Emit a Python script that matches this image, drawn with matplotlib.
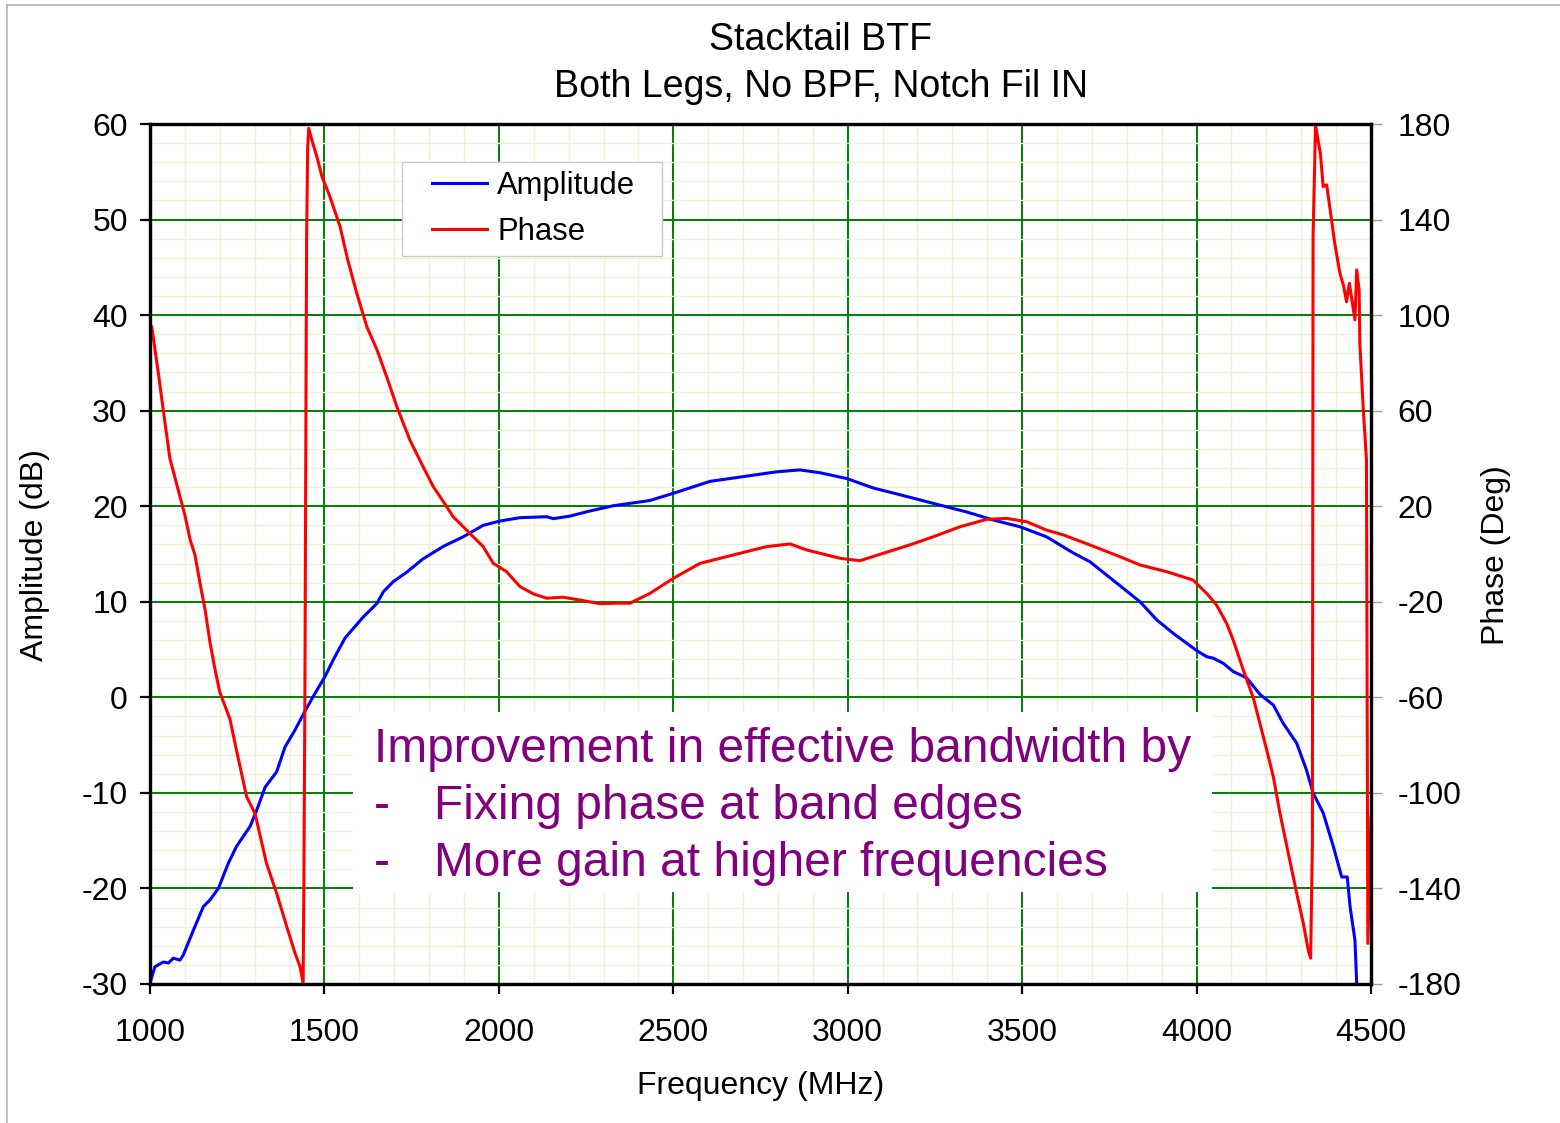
import matplotlib.pyplot as plt
from matplotlib.lines import Line2D
from matplotlib.patches import Rectangle
from matplotlib.legend_handler import HandlerLine2D

plt.rcParams['font.family'] = ['Liberation Sans', 'DejaVu Sans']
plt.rcParams['axes.unicode_minus'] = False

# Measured amplitude response (MHz, dB)
amp_freq = [1000, 1014, 1038, 1053, 1067, 1086, 1095, 1124, 1153, 1172, 1196, 1224,
            1248, 1287, 1306, 1330, 1363, 1387, 1416, 1439, 1468, 1502, 1525, 1559,
            1611, 1650, 1669, 1697, 1736, 1783, 1841, 1898, 1955, 2003, 2060, 2137,
            2156, 2204, 2261, 2328, 2433, 2500, 2605, 2701, 2796, 2863, 2921, 2997,
            3074, 3150, 3245, 3341, 3418, 3494, 3570, 3647, 3694, 3742, 3790, 3838,
            3886, 3933, 4000, 4029, 4048, 4077, 4105, 4143, 4182, 4220, 4248, 4287,
            4315, 4334, 4363, 4392, 4416, 4432, 4440, 4454, 4459, 4462]
amp_db = [-29.9, -28.2, -27.7, -27.8, -27.3, -27.5, -27.0, -24.4, -21.9, -21.2, -20.0, -17.4,
          -15.6, -13.5, -11.8, -9.4, -7.8, -5.2, -3.4, -1.8, 0.1, 2.2, 3.9, 6.2,
          8.4, 9.8, 11.05, 12.1, 13.1, 14.5, 15.8, 16.8, 18.0, 18.45, 18.8, 18.9,
          18.7, 18.97, 19.5, 20.05, 20.6, 21.35, 22.6, 23.1, 23.6, 23.8, 23.5, 22.9,
          21.9, 21.2, 20.3, 19.4, 18.55, 17.85, 16.8, 15.1, 14.2, 12.8, 11.4, 10.0,
          8.1, 6.7, 4.9, 4.25, 4.1, 3.55, 2.7, 2.05, 0.3, -0.8, -2.7, -4.8,
          -7.6, -10.0, -12.1, -15.6, -18.8, -18.8, -21.9, -25.4, -29.9, -31.0]

# Measured phase response (MHz, deg)
phase_freq = [1000, 1005, 1024, 1038, 1057, 1086, 1100, 1115, 1129, 1143, 1158, 1172,
              1186, 1200, 1229, 1248, 1277, 1301, 1334, 1363, 1392, 1416, 1430, 1439,
              1441, 1444, 1447, 1449, 1452, 1455, 1464, 1479, 1493, 1516, 1545, 1567,
              1593, 1622, 1651, 1679, 1708, 1745, 1783, 1812, 1841, 1869, 1917, 1955,
              1984, 2022, 2061, 2099, 2137, 2185, 2233, 2290, 2338, 2376, 2433, 2500,
              2577, 2672, 2768, 2835, 2882, 2940, 2978, 3035, 3102, 3178, 3245, 3322,
              3398, 3456, 3513, 3570, 3618, 3694, 3780, 3838, 3914, 3990, 4029, 4057,
              4086, 4105, 4134, 4163, 4201, 4220, 4239, 4263, 4287, 4306, 4320, 4327,
              4332, 4334, 4341, 4348, 4355, 4363, 4373, 4387, 4396, 4411, 4422, 4430,
              4438, 4454, 4459, 4466, 4468, 4478, 4487, 4491, 4500]
phase_deg = [96.0, 95.2, 75.6, 60.3, 40.0, 24.0, 16.3, 6.0, -0.4, -12.0, -23.4, -37.0,
             -48.0, -57.8, -69.0, -82.2, -101.6, -108.6, -129.5, -142.0, -156.0, -167.2, -172.7, -179.7,
             -140.0, -60.0, 60.0, 132.8, 170.0, 178.2, 173.3, 166.0, 158.0, 149.5, 137.0, 123.0,
             109.0, 95.0, 85.4, 74.0, 61.5, 47.7, 36.5, 28.2, 21.9, 15.6, 8.6, 3.1,
             -3.9, -7.4, -13.7, -16.7, -18.5, -18.1, -19.3, -20.8, -20.6, -20.6, -16.5, -10.2,
             -3.9, -0.4, 3.1, 4.2, 1.7, -0.4, -1.8, -2.8, 0.3, 3.8, 7.2, 11.4,
             14.5, 14.9, 13.5, 10.0, 8.0, 3.8, -1.1, -4.6, -7.4, -10.9, -16.5, -21.3,
             -29.0, -36.0, -48.6, -60.4, -82.0, -93.2, -108.5, -125.3, -142.0, -154.6, -165.8, -169.2,
             -121.0, 132.8, 179.6, 173.3, 167.7, 153.8, 154.5, 139.8, 130.1, 117.5, 111.9, 105.6,
             113.3, 98.0, 118.9, 110.5, 88.2, 60.3, 39.4, -163.0, -110.0]

amp_ticks = list(range(-30, 61, 10))
phase_ticks = list(range(-180, 181, 40))
freq_ticks = list(range(1000, 4501, 500))

fig = plt.figure(figsize=(15.6, 11.23), dpi=100)
ax = fig.add_axes([0.09615, 0.12378, 0.78269, 0.76580])
ax2 = ax.twinx()

# amplitude on the left axis
amp_line, = ax.plot(amp_freq, amp_db, color='#0000ff', lw=2.2, label='Amplitude', zorder=3)
ax.set_xlim(1000, 4500)
ax.set_ylim(-30, 60)
ax.set_xticks(freq_ticks)
ax.set_xticks(range(1000, 4501, 100), minor=True)
ax.set_yticks(amp_ticks)
ax.set_yticks(range(-30, 61, 2), minor=True)
ax.set_axisbelow(True)
ax.grid(which='minor', color='#eef3d2', lw=1.0)
ax.grid(which='major', color='#008000', lw=1.4)
ax.tick_params(which='minor', length=0)
ax.tick_params(axis='y', which='major', direction='out', length=7, width=1.6,
               labelsize=23, pad=9)
ax.tick_params(axis='x', which='major', direction='out', length=7, width=1.6,
               labelsize=23, pad=17.5)

# phase on the right axis
phase_line, = ax2.plot(phase_freq, phase_deg, color='#ff0000', lw=2.2, label='Phase')
ax2.set_ylim(-180, 180)
ax2.set_yticks(phase_ticks)
ax2.tick_params(axis='y', direction='out', length=8, width=1.0, color='#a0a0a0',
                labelsize=23, pad=11)

for a in (ax, ax2):
    for s in a.spines.values():
        s.set_color('black')
        s.set_linewidth(2.3)

ax.set_xlabel('Frequency (MHz)', fontsize=23)
ax.set_ylabel('Amplitude (dB)', fontsize=23)
ax2.set_ylabel('Phase (Deg)', fontsize=23)
ax.xaxis.set_label_coords(0.5, -0.1011)
ax.yaxis.set_label_coords(-0.0819, 0.4988)
ax2.yaxis.set_label_coords(1.0901, 0.4988)

fig.text(821 / 1560, 1 - 50 / 1123, 'Stacktail BTF', fontsize=27,
         ha='center', va='baseline')
fig.text(821 / 1560, 1 - 97 / 1123, 'Both Legs, No BPF, Notch Fil IN', fontsize=27,
         ha='center', va='baseline')

# legend box
leg = ax2.legend(handles=[amp_line, phase_line], loc='upper left',
                 bbox_to_anchor=(0.2064, 0.9558 - 0.107, 0.2129, 0.107),
                 mode='expand', borderaxespad=0, fontsize=22.3, borderpad=0.28,
                 labelspacing=0.53, handlelength=2.47, handletextpad=0.32,
                 fancybox=False, framealpha=1,
                 handler_map={Line2D: HandlerLine2D(xpad=0.7)})
leg.get_frame().set_edgecolor('#cccccc')
leg.get_frame().set_linewidth(1.0)

# annotation block
ax.add_patch(Rectangle((0.1663, 0.1070), 0.8698 - 0.1663, 0.3163 - 0.1070,
                       transform=ax.transAxes, facecolor='white', edgecolor='none',
                       zorder=1.5))
note_kw = dict(transform=ax.transAxes, fontsize=34.5, color='#800080',
               va='baseline', ha='left', zorder=4)
ax.text(0.1835, 0.2581, 'Improvement in effective bandwidth by', **note_kw)
ax.text(0.1835, 0.1919, '-', **note_kw)
ax.text(0.2326, 0.1919, 'Fixing phase at band edges', **note_kw)
ax.text(0.1835, 0.1256, '-', **note_kw)
ax.text(0.2326, 0.1256, 'More gain at higher frequencies', **note_kw)

# page border
fig.add_artist(Line2D([7 / 1560, 7 / 1560], [0, 1 - 5 / 1123], color='#b4b4b4', lw=1.2))
fig.add_artist(Line2D([7 / 1560, 1], [1 - 5 / 1123, 1 - 5 / 1123], color='#b4b4b4', lw=1.2))

fig.savefig('out.png', dpi=100)
